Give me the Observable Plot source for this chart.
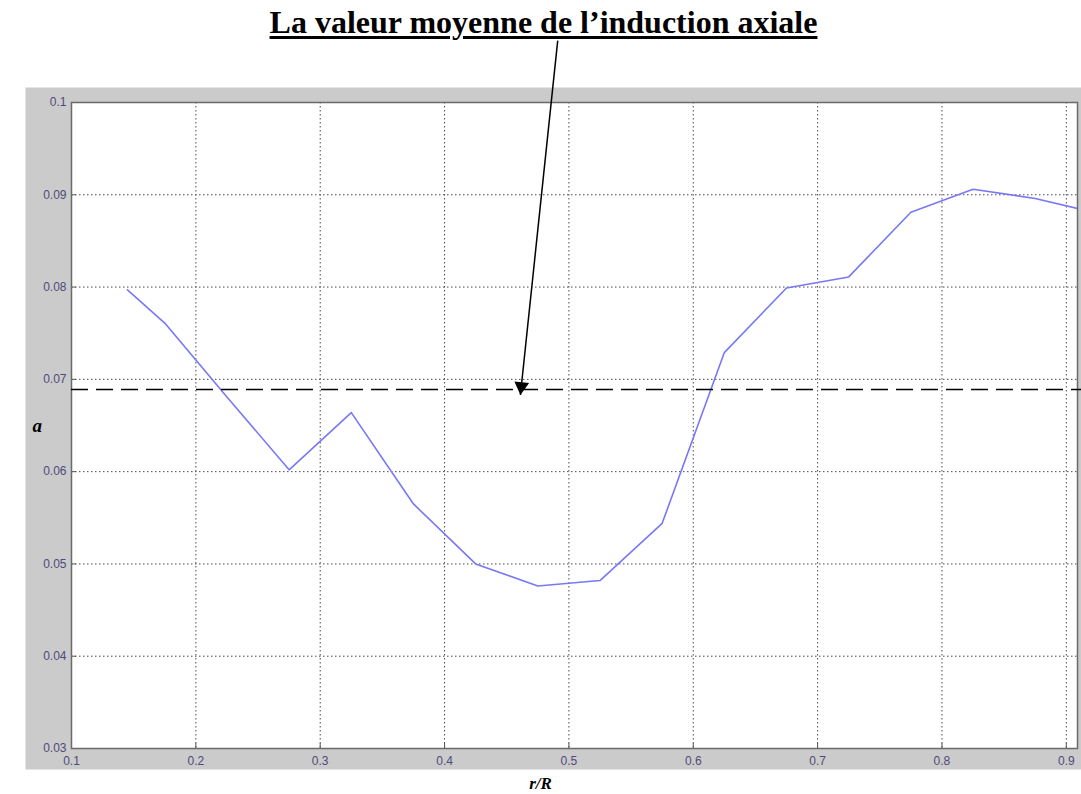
<!DOCTYPE html>
<html><head><meta charset="utf-8">
<script src="https://cdn.jsdelivr.net/npm/d3@7"></script>
<script src="https://cdn.jsdelivr.net/npm/@observablehq/plot@0.6"></script>
<style>
body{margin:0;background:#fff;position:relative;}
#title{position:absolute;left:0;top:0;height:44px;width:1087px;text-align:center;font:bold 32px "Liberation Serif","Times New Roman",serif;line-height:44px;white-space:nowrap;}
#title span{text-decoration:underline;text-decoration-thickness:3px;text-underline-offset:3px;display:inline-block;}
#chart{padding-top:40px;}
</style></head><body>
<div id="title"><span>La valeur moyenne de l’induction axiale</span></div>
<div id="chart"></div>
<script>
// r/R positions and axial induction factor a
const rR = [0.145,0.175,0.225,0.275,0.325,0.375,0.425,0.475,0.525,0.575,0.625,0.675,0.725,0.775,0.825,0.875,0.925];
const aValues = [0.0797,0.0761,0.0681,0.0602,0.0664,0.0565,0.0500,0.0476,0.0482,0.0544,0.0729,0.0799,0.0811,0.0881,0.0906,0.0896,0.0880];
const meanValue = [0.0689];
const xTicks = [0.1,0.2,0.3,0.4,0.5,0.6,0.7,0.8,0.9];
const xTickLabels = ["0.1","0.2","0.3","0.4","0.5","0.6","0.7","0.8","0.9"];
const yTicks = [0.03,0.04,0.05,0.06,0.07,0.08,0.09,0.1];
const yTickLabels = ["0.03","0.04","0.05","0.06","0.07","0.08","0.09","0.1"];
const arrowStart = [0.491, 0.1067];
const arrowEnd = [0.461, 0.0683];
const xLabel = "r/R";
const yLabel = "a";

const data = rR.map((x,i)=>({x, y:aValues[i]}));
const arrow = [{x1:arrowStart[0], y1:arrowStart[1], x2:arrowEnd[0], y2:arrowEnd[1]}];

const chart = Plot.plot({
  width:1081, height:754,
  marginLeft:71, marginRight:4, marginTop:62, marginBottom:46,
  x:{domain:[0.1,0.909]},
  y:{domain:[0.03,0.1]},
  style:{fontFamily:"'Liberation Sans', Arial, sans-serif", fontSize:"12px", background:"transparent", overflow:"visible"},
  marks:[
    Plot.frame({fill:"#cbcbcb", stroke:null, insetLeft:-46, insetTop:-15, insetRight:-4, insetBottom:-21}),
    Plot.frame({fill:"#ffffff", stroke:null}),
    Plot.gridX(xTicks, {stroke:"#4a4a4a", strokeOpacity:1, strokeDasharray:"1.5,2.5", strokeWidth:1}),
    Plot.gridY(yTicks, {stroke:"#4a4a4a", strokeOpacity:1, strokeDasharray:"1.5,2.5", strokeWidth:1}),
    Plot.axisX({ticks:xTicks, tickSize:0, tickPadding:8, tickFormat:(d,i)=>xTickLabels[i], label:null, fill:"#4f4a78"}),
    Plot.axisY({ticks:yTicks, tickSize:0, tickPadding:5, tickFormat:(d,i)=>yTickLabels[i], label:null, fill:"#4f4a78"}),
    Plot.tickX(xTicks, {x:d=>d, stroke:"#555", insetTop:641}),
    Plot.tickY(yTicks, {y:d=>d, stroke:"#555", insetRight:1001}),
    Plot.frame({stroke:"#6a6a6a", strokeWidth:1.5}),
    Plot.line(data, {x:"x", y:"y", stroke:"#7878f4", strokeWidth:1.6, clip:"frame"}),
    Plot.ruleY(meanValue, {stroke:"#000", strokeWidth:1.6, strokeDasharray:"17,8", insetRight:-4}),
    Plot.link(arrow, {x1:"x1", y1:"y1", x2:"x2", y2:"y2", stroke:"#000", strokeWidth:1.5}),
    Plot.dot(arrow, {x:"x2", y:"y2", symbol:"triangle", r:5.5, fill:"#000", stroke:null, rotate:186, dx:0.9, dy:-8.5}),
    Plot.text([yLabel], {frameAnchor:"left", dx:-39, text:d=>d, fontFamily:"'Liberation Serif', serif", fontWeight:"bold", fontStyle:"italic", fontSize:19, fill:"#000"}),
    Plot.text([xLabel], {frameAnchor:"bottom", dx:-34, dy:40, text:d=>d, fontFamily:"'Liberation Serif', serif", fontWeight:"bold", fontStyle:"italic", fontSize:17, fill:"#000"})
  ]
});
document.getElementById("chart").appendChild(chart);
</script>
</body></html>
